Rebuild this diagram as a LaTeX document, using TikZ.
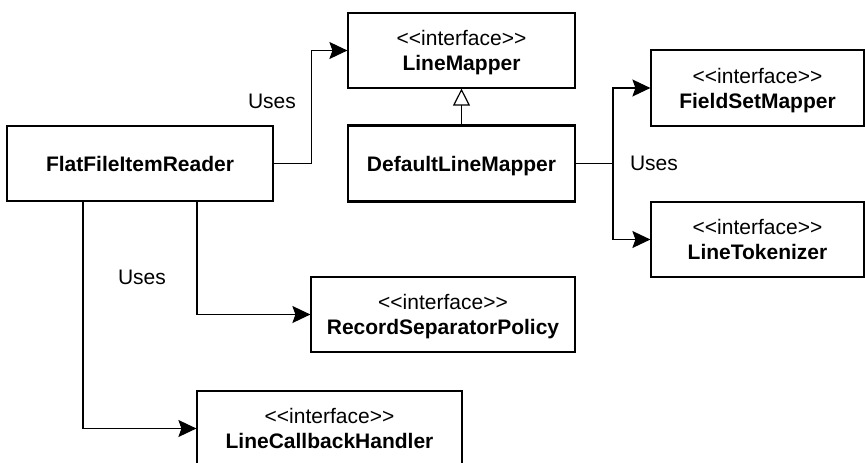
\documentclass[tikz,border=0pt]{standalone}
\usepackage{fontspec}
\setmainfont{Liberation Sans}
\usetikzlibrary{arrows.meta, positioning}

\newcommand{\stereo}{{<}{<}interface{>}{>}}

\begin{document}
\begin{tikzpicture}[x=1pt, y=-1pt,
		box/.style={draw, line width=1.2pt, inner sep=0pt, align=center,
			font=\fontsize{21}{25}\selectfont, text depth=0pt},
		classbox/.style={box, line width=2.4pt},
		uses/.style={line width=1.2pt, -{Stealth[length=18pt, width=17pt, inset=3pt]}},
		implements/.style={line width=1.2pt, -{Triangle[open, length=17pt, width=17pt]}},
		lbl/.style={font=\fontsize{21}{25}\selectfont}]
	\clip (0,0) rectangle (865,463);
	\node[classbox, minimum width=266pt, minimum height=75pt] (reader) at (140,163.5) {\textbf{FlatFileItemReader}};
	\node[box, minimum width=227pt, minimum height=75pt] (mapper) at (461.5,50.5) {\stereo\\\textbf{LineMapper}};
	\node[classbox, minimum width=227pt, minimum height=76pt] (defmapper) at (461.5,163.5) {\textbf{DefaultLineMapper}};
	\node[box, minimum width=213pt, minimum height=76pt] (fsmapper) at (757.5,88) {\stereo\\\textbf{FieldSetMapper}};
	\node[box, minimum width=213pt, minimum height=75pt] (tokenizer) at (757.5,239.5) {\stereo\\\textbf{LineTokenizer}};
	\node[box, minimum width=264pt, minimum height=75pt] (policy) at (443,314.5) {\stereo\\\textbf{RecordSeparatorPolicy}};
	\node[box, minimum width=265pt, minimum height=75pt] (callback) at (329.5,428.5) {\stereo\\\textbf{LineCallbackHandler}};

	\draw[uses] (reader.east) -- ++(37,0) |- (mapper.west);
	\draw[implements] (defmapper.north) -- (mapper.south);
	\coordinate (fork) at (613,163.5);
	\draw[line width=1.2pt] (defmapper.east) -- (fork);
	\draw[uses] (fork) |- (fsmapper.west);
	\draw[uses] (fork) |- (tokenizer.west);
	\draw[uses] ([xshift=57pt]reader.south) |- (policy.west);
	\draw[uses] ([xshift=-57pt]reader.south) |- (callback.west);

	\node[lbl] (uses1) at (272,101) {Uses};
	\node[lbl] (uses2) at (654,163.5) {Uses};
	\node[lbl] (uses3) at (142,277) {Uses};
\end{tikzpicture}
\end{document}
